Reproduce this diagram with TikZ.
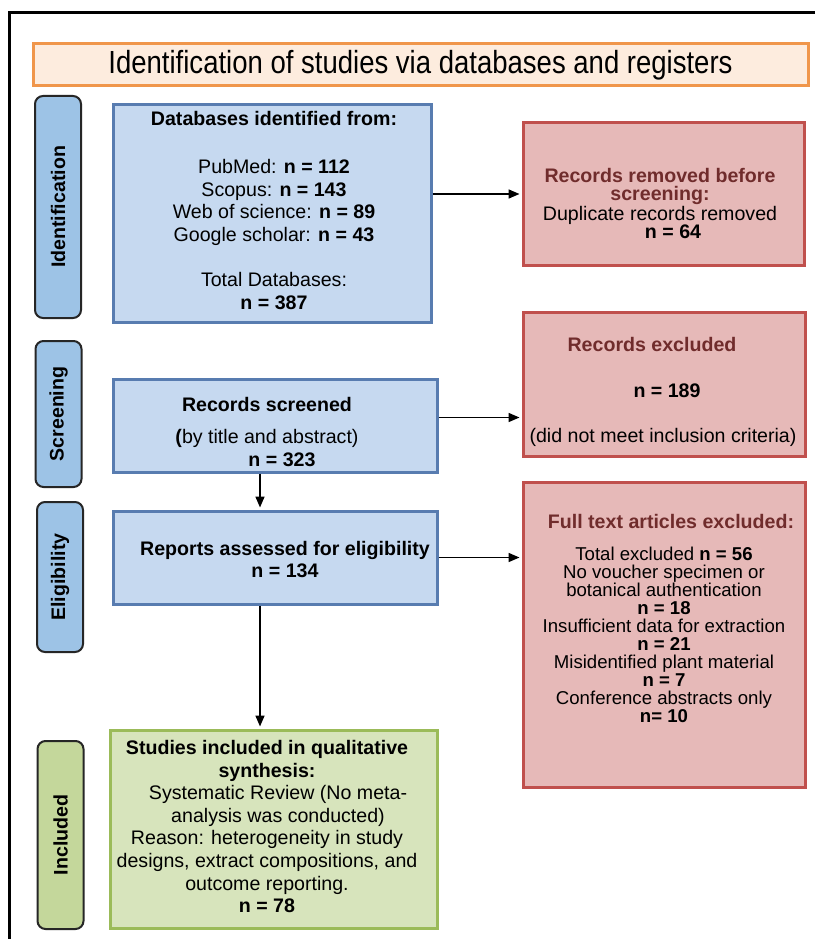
\documentclass[tikz,border=0pt]{standalone}
\usepackage{fontspec}
\setmainfont{Liberation Sans}
\newfontfamily\narrowfont[FakeStretch=0.86]{Liberation Sans}
\usetikzlibrary{arrows.meta,positioning,calc}
\definecolor{boxblue}{RGB}{198,217,240}
\definecolor{lineblue}{RGB}{88,124,176}
\definecolor{tabblue}{RGB}{157,195,230}
\definecolor{boxpink}{RGB}{230,185,184}
\definecolor{linered}{RGB}{192,80,77}
\definecolor{textred}{RGB}{112,44,44}
\definecolor{boxgreen}{RGB}{215,228,188}
\definecolor{linegreen}{RGB}{155,187,89}
\definecolor{tabgreen}{RGB}{196,215,155}
\definecolor{boxpeach}{RGB}{253,236,222}
\definecolor{lineorange}{RGB}{240,150,75}

\begin{document}
\begin{tikzpicture}[x=1pt,y=-1pt,
  every node/.style={inner sep=0pt},
  bluebox/.style={draw=lineblue,fill=boxblue,line width=3pt},
  pinkbox/.style={draw=linered,fill=boxpink,line width=3pt},
  greenbox/.style={draw=linegreen,fill=boxgreen,line width=3pt},
  phase/.style={draw=black!85,line width=2pt,rounded corners=8pt,rotate=90,
    minimum height=46pt,font=\fontsize{19.6}{22}\selectfont\bfseries},
  txt/.style={align=center,font=\fontsize{19.6}{22.6}\selectfont},
  tighttxt/.style={align=center,font=\fontsize{19.6}{18.2}\selectfont},
  listtxt/.style={align=center,font=\fontsize{18.6}{18}\selectfont},
  arr/.style={-{Triangle[length=11pt,width=9pt]},line width=1.6pt,shorten >=2pt}]

  \useasboundingbox (0,0) rectangle (815,939);
  \fill[white] (0,0) rectangle (815,939);
  \draw[line width=3pt] (9,939) -- (9,13) -- (815,13);

  % header
  \node[draw=lineorange,fill=boxpeach,line width=3pt,minimum width=775pt,minimum height=42pt,
    font=\narrowfont\fontsize{32}{34}\selectfont] (head) at (420.5,65) {Identification of studies via databases and registers};

  % phases
  \node[phase,fill=tabblue,minimum width=222pt] (ph1) at (58,207) {Identification};
  \node[phase,fill=tabblue,minimum width=146pt] (ph2) at (58.5,414) {Screening};
  \node[phase,fill=tabblue,minimum width=150pt] (ph3) at (60,577) {Eligibility};
  \node[phase,fill=tabgreen,minimum width=188pt] (ph4) at (60.5,835) {Included};

  % boxes
  \node[bluebox,minimum width=318pt,minimum height=217pt] (db) at (272,213.5) {};
  \node[pinkbox,minimum width=281pt,minimum height=142pt] (rem) at (663.5,194) {};
  \node[bluebox,minimum width=324pt,minimum height=93pt] (scr) at (275,425.5) {};
  \node[pinkbox,minimum width=282pt,minimum height=144pt] (exc) at (664,384) {};
  \node[bluebox,minimum width=324pt,minimum height=93pt] (rep) at (275,557.5) {};
  \node[pinkbox,minimum width=282pt,minimum height=305pt] (ful) at (664,634.5) {};
  \node[greenbox,minimum width=327pt,minimum height=198pt] (inc) at (273.5,829) {};

  % texts
  \node[txt] (dbT) at (274,210.5) {\textbf{Databases identified from:}\\[25pt]
    PubMed: \textbf{n = 112}\\ Scopus: \textbf{n = 143}\\ Web of science: \textbf{n = 89}\\
    Google scholar: \textbf{n = 43}\\[22.5pt] Total Databases:\\ \textbf{n = 387}};
  \node[tighttxt] (remT) at (660,203.5) {\textcolor{textred}{\textbf{Records removed before}}\\
    \textcolor{textred}{\textbf{screening:}}\\ Duplicate records removed\\ \hspace*{26pt}\textbf{n = 64}};
  \node[txt] (excT) at (663,392) {\textcolor{textred}{\textbf{Records excluded}}\hspace*{22pt}\\[22.5pt]
    \hspace*{8pt}\textbf{n = 189}\\[22.5pt] (did not meet inclusion criteria)};
  \node[txt] (scrT) at (267,432) {\textbf{Records screened}\\[10pt] \textbf{(}by title and abstract)\\
    \hspace*{30pt}\textbf{n = 323}};
  \node[txt] (repT) at (285,559.5) {\textbf{Reports assessed for eligibility}\\ \textbf{n = 134}};
  \node[listtxt] (fulT) at (664,618) {\hspace*{14pt}\textcolor{textred}{\textbf{\fontsize{19.6}{18}\selectfont Full text articles excluded:}}\\[14pt]
    Total excluded \textbf{n = 56}\\ No voucher specimen or\\ botanical authentication\\ \textbf{n = 18}\\
    Insufficient data for extraction\\ \textbf{n = 21}\\ Misidentified plant material\\ \textbf{n = 7}\\
    Conference abstracts only\\ \textbf{n= 10}};
  \node[txt] (incT) at (267,826.5) {\textbf{Studies included in qualitative}\\ \textbf{synthesis:}\\
    \hspace*{22pt}Systematic Review (No meta-\\ \hspace*{22pt}analysis was conducted)\\
    Reason: heterogeneity in study\\ designs, extract compositions, and\\ outcome reporting.\\ \textbf{n = 78}};

  % connectors
  \coordinate (spine) at (260,0);
  \coordinate (scrout) at ($(scr.east)+(0,-8)$);
  \draw[arr] (db.east |- rem.west) -- (rem.west);
  \draw[arr] (scrout) -- (scrout -| exc.west);
  \draw[arr] (rep.east) -- (rep.east -| ful.west);
  \draw[arr] (scr.south -| spine) -- (rep.north -| spine);
  \draw[arr] (rep.south -| spine) -- (inc.north -| spine);
\end{tikzpicture}
\end{document}
